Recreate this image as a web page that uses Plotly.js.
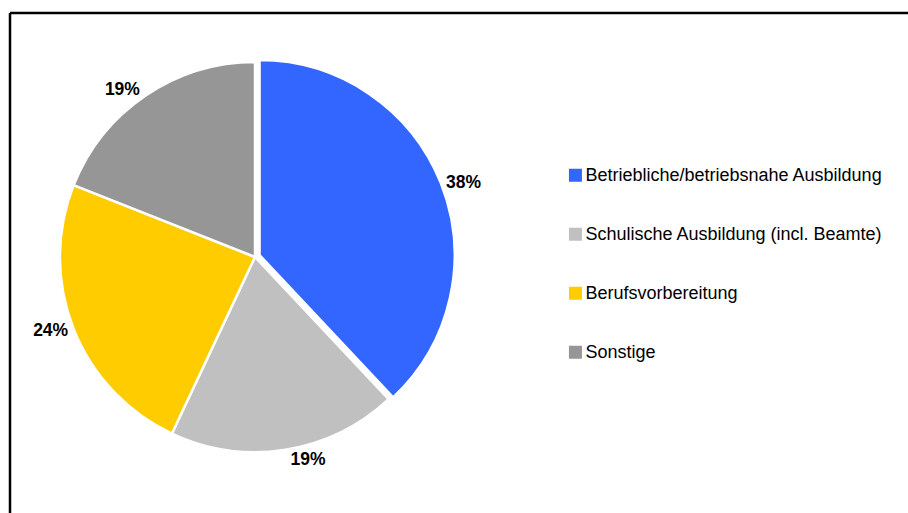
<!DOCTYPE html>
<html>
<head>
<meta charset="utf-8">
<script src="https://cdn.plot.ly/plotly-3.0.1.min.js"></script>
<style>
html,body{margin:0;padding:0;background:#fff;}
#chart{width:908px;height:513px;}
</style>
</head>
<body>
<div id="chart"></div>
<script>
const categories = [
  "Betriebliche/betriebsnahe Ausbildung",
  "Schulische Ausbildung (incl. Beamte)",
  "Berufsvorbereitung",
  "Sonstige"
];
const shares = [38, 19, 24, 19];
const colors = ["#3366FF", "#C0C0C0", "#FFCC00", "#969696"];
const pulls = [0.025, 0, 0, 0];

const legendLabels = categories.map(c => "&nbsp;<br><span style='font-size:18px'>" + c + "</span><br>&nbsp;");

const W = 908, H = 513;
const trace = {
  type: "pie",
  values: shares,
  labels: legendLabels,
  sort: false,
  direction: "clockwise",
  rotation: 0,
  pull: pulls,
  marker: {colors: colors, line: {color: "#ffffff", width: 2.5}},
  textinfo: "percent",
  texttemplate: "<b>%{percent:.0%}</b>",
  textposition: "outside",
  outsidetextfont: {family: "Liberation Sans, Arial, sans-serif", size: 17.5, color: "#000"},
  automargin: false,
  domain: {x: [0.0606, 0.5011], y: [0.109, 0.889]},
  hoverinfo: "percent"
};

const layout = {
  width: W, height: H,
  margin: {l: 0, r: 0, t: 0, b: 0},
  paper_bgcolor: "#fff",
  plot_bgcolor: "#fff",
  showlegend: true,
  legend: {
    x: 0.6007, y: 0.485, xanchor: "left", yanchor: "middle",
    font: {family: "Liberation Sans, Arial, sans-serif", size: 14.36, color: "#000"},
    itemwidth: 30,
    valign: "middle",
    bgcolor: "rgba(0,0,0,0)"
  },
  shapes: [
    {type: "line", xref: "paper", yref: "paper", x0: 10/W, x1: 10/W, y0: 0, y1: 1 - 13/H, line: {color: "#000", width: 2.5}},
    {type: "line", xref: "paper", yref: "paper", x0: 10/W, x1: 1, y0: 1 - 13/H, y1: 1 - 13/H, line: {color: "#000", width: 2.5}}
  ]
};

Plotly.newPlot("chart", [trace], layout, {displayModeBar: false, staticPlot: true}).then(gd => {
  gd.querySelectorAll(".legendpoints path").forEach(p => {
    p.style.strokeWidth = "0px";
    p.setAttribute("d", "M16.5,6.5H3.5V-6.5H16.5Z");
  });
});
</script>
</body>
</html>
